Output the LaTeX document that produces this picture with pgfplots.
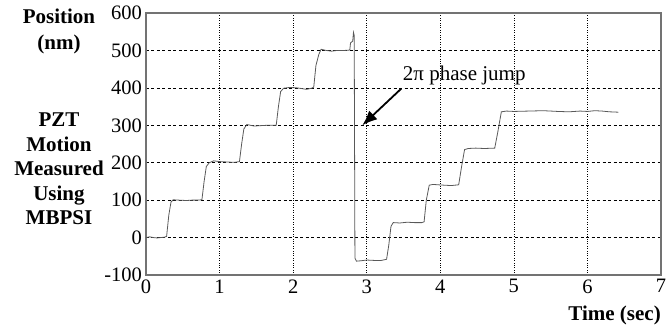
\documentclass[border=0pt]{standalone}
\usepackage{fontspec}
\setmainfont{Liberation Serif}
\usepackage{pgfplots}
\pgfplotsset{compat=1.18}
\usetikzlibrary{arrows.meta}
\begin{document}
\begin{tikzpicture}
\useasboundingbox (-146pt,-50pt) rectangle (526pt,275pt);
\begin{axis}[
  scale only axis, width=515pt, height=262pt,
  xmin=0, xmax=7, ymin=-100, ymax=600,
  xtick={0,1,...,7}, ytick={-100,0,100,...,600},
  major tick length=0pt,
  axis line style={draw=black!55, line width=1.3pt},
  xmajorgrids, ymajorgrids,
  x grid style={black, dotted, line width=0.6pt},
  y grid style={black, dash pattern=on 3pt off 2.5pt, line width=0.6pt},
  tick label style={font=\fontsize{20.5}{23}\selectfont},
  /pgf/number format/assume math mode=true,
  xticklabel style={yshift=-1pt},
  yticklabel style={xshift=-0.5pt},
  clip=false,
]
\addplot[black!65, line width=0.8pt] coordinates {
(0,0) (0.05,2) (0.1,0) (0.15,-1) (0.2,0) (0.25,1) (0.28,3) (0.31,60) (0.34,95) (0.37,101)
(0.45,100) (0.55,99) (0.62,100) (0.7,100) (0.76,101) (0.79,150) (0.82,190) (0.86,200)
(0.92,205) (1.0,203) (1.1,202) (1.2,201) (1.27,203) (1.30,250) (1.33,290) (1.37,302)
(1.42,300) (1.47,298) (1.55,299) (1.65,300) (1.77,300) (1.80,350) (1.83,390) (1.87,399)
(1.95,401) (2.05,400) (2.12,398) (2.18,396) (2.25,399) (2.28,402) (2.31,460) (2.35,490)
(2.38,503) (2.45,500) (2.52,498) (2.6,500) (2.7,500) (2.77,501) (2.78,520) (2.81,525)
(2.82,548) (2.83,540) (2.84,-55) (2.86,-63) (2.92,-62) (3.0,-60) (3.1,-61) (3.2,-61)
(3.27,-58) (3.30,-20) (3.33,30) (3.36,40) (3.45,39) (3.55,41) (3.65,40) (3.75,40)
(3.78,42) (3.81,100) (3.85,140) (3.9,142) (3.97,141) (4.05,140) (4.15,139) (4.25,141)
(4.29,190) (4.33,235) (4.38,238) (4.48,239) (4.6,238) (4.74,239) (4.78,280) (4.83,336)
(4.9,338) (5.0,337) (5.2,338) (5.4,339) (5.6,337) (5.75,336) (5.9,338) (6.0,337)
(6.1,339) (6.2,338) (6.3,336) (6.42,335)
};
\draw[black, line width=1.8pt, -{Latex[length=15pt,width=12pt]}] (axis cs:3.47,398) -- (axis cs:2.94,300);
\node[anchor=west, inner sep=0pt, font=\fontsize{21}{24}\selectfont] at (axis cs:3.49,433) {2π phase jump};
\end{axis}
\node[align=center, font=\bfseries\fontsize{21}{26}\selectfont] at (-87pt,244pt) {Position\\(nm)};
\node[align=center, font=\bfseries\fontsize{21}{24.5}\selectfont] at (-87pt,106pt) {PZT\\Motion\\Measured\\Using\\MBPSI};
\node[anchor=east, inner sep=0pt, font=\bfseries\fontsize{21}{24}\selectfont] at (515pt,-40pt) {Time (sec)};
\end{tikzpicture}
\end{document}
